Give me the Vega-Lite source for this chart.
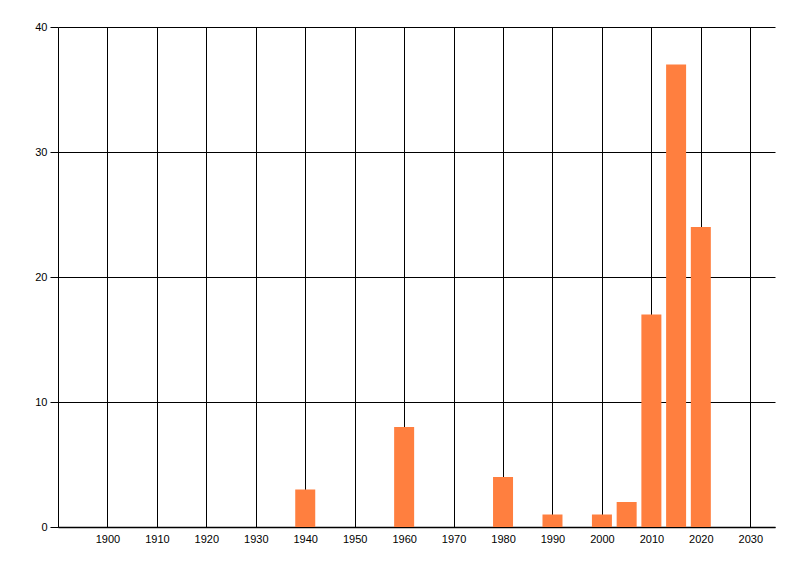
{
  "$schema": "https://vega.github.io/schema/vega-lite/v6.json",
  "width": 717,
  "height": 500,
  "autosize": {"type": "none"},
  "padding": {"left": 58, "top": 27, "right": 25, "bottom": 49},
  "background": "white",
  "config": {
    "view": {"stroke": null},
    "font": "Liberation Sans"
  },
  "data": {
    "values": [
      {"year": 1940, "count": 3},
      {"year": 1960, "count": 8},
      {"year": 1980, "count": 4},
      {"year": 1990, "count": 1},
      {"year": 2000, "count": 1},
      {"year": 2005, "count": 2},
      {"year": 2010, "count": 17},
      {"year": 2015, "count": 37},
      {"year": 2020, "count": 24}
    ]
  },
  "mark": {"type": "bar", "width": 20, "color": "#FF7F3F"},
  "encoding": {
    "x": {
      "field": "year",
      "type": "quantitative",
      "scale": {"domain": [1890, 2035], "nice": false, "zero": false, "padding": 0},
      "axis": {
        "title": null,
        "values": [1900, 1910, 1920, 1930, 1940, 1950, 1960, 1970, 1980, 1990, 2000, 2010, 2020, 2030],
        "format": "d",
        "grid": true,
        "gridColor": "black",
        "gridOpacity": 1,
        "gridWidth": 1,
        "domainColor": "black",
        "domainWidth": 1.5,
        "ticks": false,
        "labelPadding": 6,
        "labelFontSize": 11,
        "labelColor": "black",
        "labelFlush": false
      }
    },
    "y": {
      "field": "count",
      "type": "quantitative",
      "scale": {"domain": [0, 40], "nice": false},
      "axis": {
        "title": null,
        "values": [0, 10, 20, 30, 40],
        "grid": true,
        "gridColor": "black",
        "gridOpacity": 1,
        "gridWidth": 1,
        "domainColor": "black",
        "domainWidth": 1,
        "tickColor": "black",
        "tickSize": 8,
        "labelPadding": 3,
        "labelFontSize": 11,
        "labelColor": "black"
      }
    }
  }
}
